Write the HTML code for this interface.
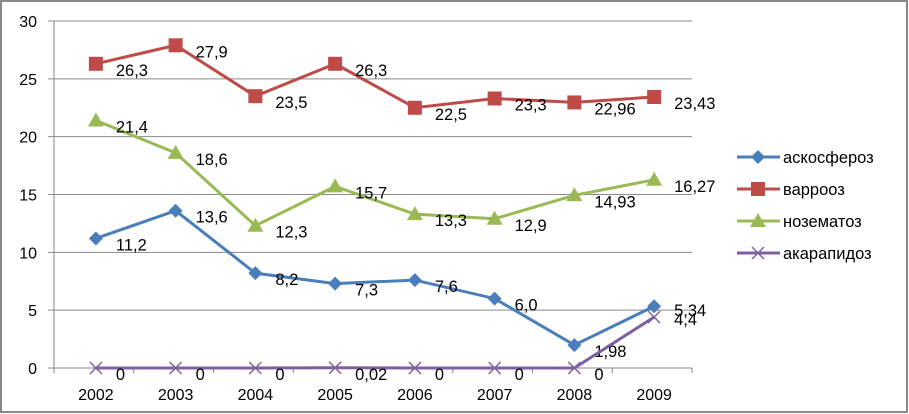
<!DOCTYPE html>
<html><head><meta charset="utf-8"><style>
body{margin:0;background:#fff}
svg{display:block;font-family:"Liberation Sans","DejaVu Sans",sans-serif}
</style></head><body>
<svg id="c" width="909" height="414" xmlns="http://www.w3.org/2000/svg">
<rect x="1" y="1" width="906" height="411" fill="#fff" stroke="#8a8a8a" stroke-width="2"/>
<g id="grid"></g><g id="series"></g><g id="legend"></g>
</svg>
<script>
const years=["2002","2003","2004","2005","2006","2007","2008","2009"];
const asko=[11.2,13.6,8.2,7.3,7.6,6.0,1.98,5.34];
const askoLbl=["11,2","13,6","8,2","7,3","7,6","6,0","1,98","5,34"];
const varr=[26.3,27.9,23.5,26.3,22.5,23.3,22.96,23.43];
const varrLbl=["26,3","27,9","23,5","26,3","22,5","23,3","22,96","23,43"];
const noze=[21.4,18.6,12.3,15.7,13.3,12.9,14.93,16.27];
const nozeLbl=["21,4","18,6","12,3","15,7","13,3","12,9","14,93","16,27"];
const akar=[0,0,0,0.02,0,0,0,4.4];
const akarLbl=["0","0","0","0,02","0","0","0","4,4"];
const yTicks=[0,5,10,15,20,25,30];
const names=["аскосфероз","варрооз","нозематоз","акарапидоз"];
const NS="http://www.w3.org/2000/svg";
const L=54,R=692,T=21,B=368;
const cw=(R-L)/years.length;
const x=i=>L+cw*(i+0.5)+2;
const y=v=>B-(v/30)*(B-T);
function mk(p,tag,a){const e=document.createElementNS(NS,tag);for(const k in a)e.setAttribute(k,a[k]);p.appendChild(e);return e;}
const g=document.getElementById('grid');
yTicks.forEach(t=>{
  const ln=mk(g,'line',{x1:L-6,x2:R,y1:y(t),y2:y(t),stroke:'#8a8a8a','stroke-width':1});
  
  
  const tx=mk(g,'text',{x:L-17,y:y(t)+6,'text-anchor':'end','font-size':16,fill:'#000'});
  tx.textContent=t;
  
  
});
const ax=mk(g,'line',{x1:L,x2:L,y1:T,y2:B+5,stroke:'#868686'});


years.forEach((yr,i)=>{
  const tk=mk(g,'line',{x1:L+cw*(i+1),x2:L+cw*(i+1),y1:B,y2:B+5,stroke:'#868686'});
  
  
  const tx=mk(g,'text',{x:x(i),y:B+32,'text-anchor':'middle','font-size':16});
  tx.textContent=yr;
  
  
});
const S=document.getElementById('series');
const defs=[[asko,askoLbl,'#4a7ebb','diamond'],[varr,varrLbl,'#be4b48','square'],[noze,nozeLbl,'#98b954','triangle'],[akar,akarLbl,'#7d60a0','x']];
function marker(p,type,cx,cy,col){
  let e;
  if(type==='diamond')e=mk(p,'polygon',{points:`${cx},${cy-7} ${cx+7},${cy} ${cx},${cy+7} ${cx-7},${cy}`,fill:col});
  else if(type==='square')e=mk(p,'rect',{x:cx-7,y:cy-7,width:14,height:14,fill:col});
  else if(type==='triangle')e=mk(p,'polygon',{points:`${cx},${cy-8} ${cx+8},${cy+6} ${cx-8},${cy+6}`,fill:col});
  else e=mk(p,'path',{d:`M${cx-6} ${cy-6}L${cx+6} ${cy+6}M${cx-6} ${cy+6}L${cx+6} ${cy-6}`,stroke:col,'stroke-width':1.5,fill:'none'});
  return e;
}
defs.forEach((d,si)=>{
  const [vals,lbls,col,type]=d;
  const grp=mk(S,'g',{});
  
  
  const pl=mk(grp,'polyline',{points:vals.map((v,i)=>x(i)+','+y(v)).join(' '),fill:'none',stroke:col,'stroke-width':3});
  
  
  vals.forEach((v,i)=>{
    const m=marker(grp,type,x(i),y(v),col);
    
    
    let dy=12;
    if(si===0&&i===7)dy=10;
    if(si===3&&i===7)dy=8;
    const tx=mk(grp,'text',{x:x(i)+20,y:y(v)+dy,'font-size':16.5});
    tx.textContent=lbls[i];
    
    
  });
});
const Lg=document.getElementById('legend');
names.forEach((n,i)=>{
  const d=defs[i];const ly=157+i*32;
  const grp=mk(Lg,'g',{});
  
  
  mk(grp,'line',{x1:737,x2:780,y1:ly,y2:ly,stroke:d[2],'stroke-width':3});
  marker(grp,d[3],758,ly,d[2]);
  const tx=mk(grp,'text',{x:783,y:ly+6,'font-size':16.5});
  tx.textContent=n;
});
</script>
</body></html>
